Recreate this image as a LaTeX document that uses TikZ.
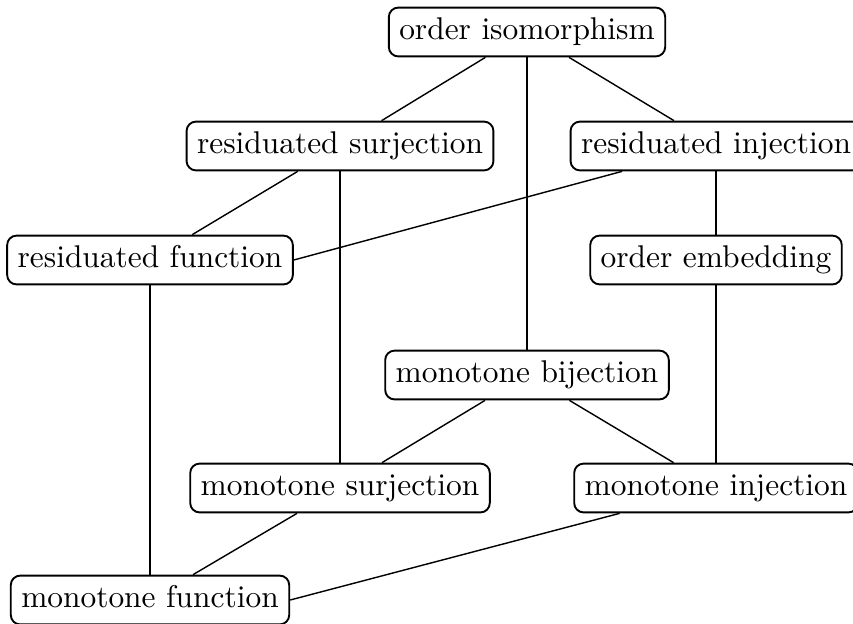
\documentclass[tikz,border=0pt]{standalone}
\begin{document}
\begin{tikzpicture}[x=0.3183pt,y=-0.3183pt,
  box/.style={draw,line width=0.6pt,rounded corners=3pt,inner sep=3.33pt,text height=6.94pt,text depth=1.94pt},
  conn/.style={line width=0.45pt}]
\useasboundingbox (0,0) rectangle (853,623);
\node[box] (iso) at (527,32) {order isomorphism};
\node[box] (rs) at (340,146) {residuated surjection};
\node[box] (ri) at (716,146) {residuated injection};
\node[box] (rf) at (150,260) {residuated function};
\node[box] (oe) at (716,260) {order embedding};
\node[box] (mb) at (527,375) {monotone bijection};
\node[box] (ms) at (340,488) {monotone surjection};
\node[box] (mi) at (716,488) {monotone injection};
\node[box] (mf) at (150,600) {monotone function};
\draw[conn] (iso) -- (rs);
\draw[conn] (iso) -- (ri);
\draw[conn] (iso) -- (mb);
\draw[conn] (rs) -- (rf);
\draw[conn] (rs) -- (ms);
\draw[conn] (ri) -- (rf.east);
\draw[conn] (ri) -- (oe);
\draw[conn] (rf) -- (mf);
\draw[conn] (oe) -- (mi);
\draw[conn] (mb) -- (ms);
\draw[conn] (mb) -- (mi);
\draw[conn] (ms) -- (mf);
\draw[conn] (mi) -- (mf.east);
\end{tikzpicture}
\end{document}
